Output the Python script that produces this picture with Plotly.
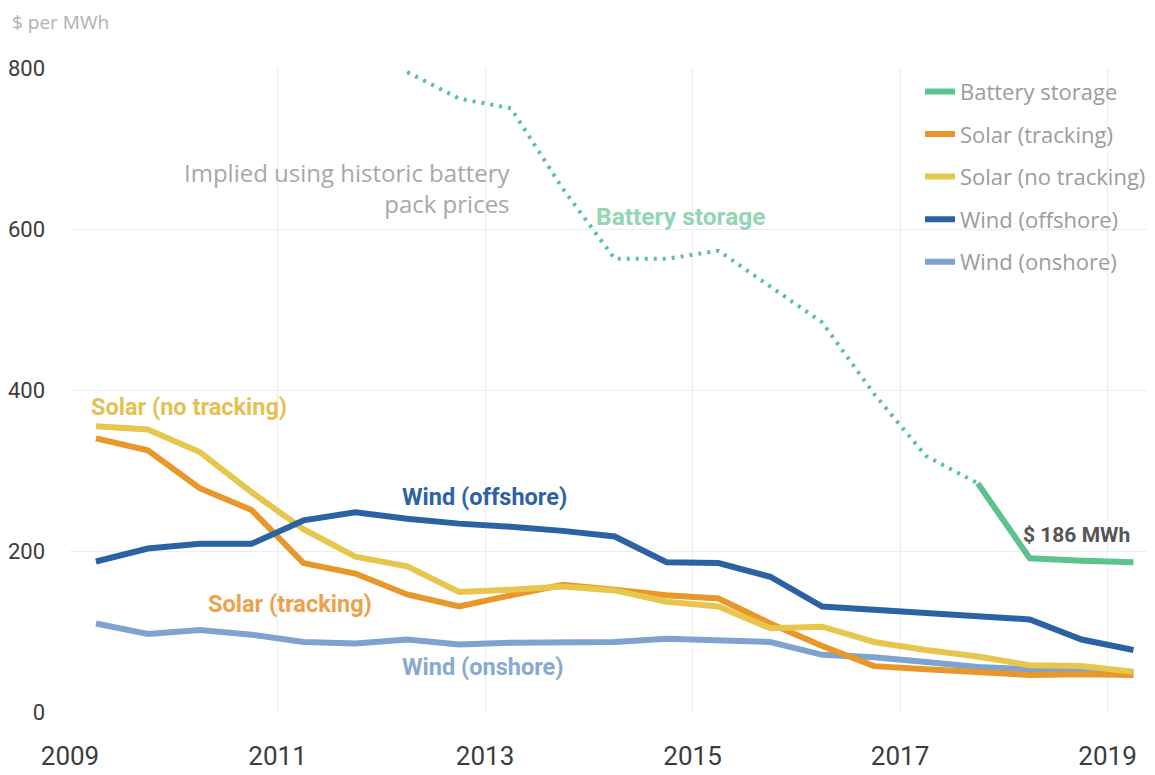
import plotly.graph_objects as go

# ---- data ----
years = [2009.25, 2009.75, 2010.25, 2010.75, 2011.25, 2011.75, 2012.25, 2012.75,
         2013.25, 2013.75, 2014.25, 2014.75, 2015.25, 2015.75, 2016.25, 2016.75,
         2017.25, 2017.75, 2018.25, 2018.75, 2019.25]
solar_tracking = [340, 325, 278, 251, 185, 172, 146, 131, 145, 158, 152, 145, 141,
                  110, 82, 57, 53, 49, 46, 47, 46]
solar_no_tracking = [355, 351, 323, 273, 227, 193, 181, 149, 152, 156, 151, 137, 131,
                     104, 106, 87, 77, 69, 58, 57, 50]
wind_offshore = [187, 203, 209, 209, 238, 248, 240, 234, 230, 225, 218, 186, 185,
                 168, 131, 127, 123, 119, 115, 90, 77]
wind_onshore = [110, 97, 102, 96, 87, 85, 90, 84, 86, 86, 87, 91, 89, 87, 71, 68,
                62, 56, 53, 53, 49]

battery_years = [2012.25, 2012.75, 2013.25, 2013.75, 2014.25, 2014.75, 2015.25,
                 2015.75, 2016.25, 2016.75, 2017.25, 2017.75, 2018.25, 2018.75,
                 2019.25]
battery_storage = [795, 762, 750, 650, 563, 563, 573, 528, 484, 395, 318, 284,
                   191, 188, 186]
implied_until = 2017.75  # before this, implied from historic battery pack prices

y_ticks = [0, 200, 400, 600, 800]
x_ticks = [2009, 2011, 2013, 2015, 2017, 2019]

# ---- styles ----
C_BATT = "#5cc38e"
C_STRK = "#e8972a"
C_SNOT = "#e6c64c"
C_WOFF = "#2b62a3"
C_WON = "#7fa3cf"
LW = 6

NARROW = "Roboto, Liberation Sans Narrow, DejaVu Sans, sans-serif"
BODY = "Open Sans, Lato, sans-serif"

imp_x = [x for x in battery_years if x <= implied_until]
imp_y = [v for x, v in zip(battery_years, battery_storage) if x <= implied_until]
act_x = [x for x in battery_years if x >= implied_until]
act_y = [v for x, v in zip(battery_years, battery_storage) if x >= implied_until]

fig = go.Figure()

fig.add_trace(go.Scatter(x=years, y=wind_onshore, mode="lines", name="Wind (onshore)",
                         line=dict(color=C_WON, width=LW), legendrank=5,
                         legendgroup="g5"))
fig.add_trace(go.Scatter(x=years, y=solar_tracking, mode="lines", name="Solar (tracking)",
                         line=dict(color=C_STRK, width=LW), legendrank=2,
                         legendgroup="g2"))
fig.add_trace(go.Scatter(x=years, y=solar_no_tracking, mode="lines", name="Solar (no tracking)",
                         line=dict(color=C_SNOT, width=LW), legendrank=3,
                         legendgroup="g3"))
fig.add_trace(go.Scatter(x=years, y=wind_offshore, mode="lines", name="Wind (offshore)",
                         line=dict(color=C_WOFF, width=LW), legendrank=4,
                         legendgroup="g4"))
fig.add_trace(go.Scatter(x=imp_x, y=imp_y, mode="lines", name="Battery storage (implied)",
                         line=dict(color=C_BATT, width=4, dash="3px,6px"),
                         showlegend=False, legendgroup="g1"))
fig.add_trace(go.Scatter(x=act_x, y=act_y, mode="lines", name="Battery storage",
                         line=dict(color=C_BATT, width=LW), legendrank=1,
                         legendgroup="g1"))

annos = [
    dict(text="Solar (no tracking)", x=2009.18, y=379, color="#e3c253", size=23.5),
    dict(text="Wind (offshore)", x=2012.18, y=267, color="#2d63a6", size=23.5),
    dict(text="Solar (tracking)", x=2010.31, y=134, color="#eba24d", size=23.5),
    dict(text="Wind (onshore)", x=2012.18, y=56, color="#88a9d1", size=23.5),
    dict(text="Battery storage", x=2014.05, y=615, color="#92d6b4", size=24.5),
    dict(text="$ 186 MWh", x=2018.17, y=220, color="#555555", size=21),
]
for a in annos:
    fig.add_annotation(x=a["x"], y=a["y"], text="<b>" + a["text"] + "</b>",
                       showarrow=False, xanchor="left", yanchor="middle",
                       font=dict(family=NARROW, size=a["size"], color=a["color"]))

fig.add_annotation(x=2013.27, y=651, text="Implied using historic battery<br>pack prices",
                   showarrow=False, xanchor="right", yanchor="middle", align="right",
                   font=dict(family=BODY, size=24, color="#a8a8a8"))

fig.add_annotation(xref="paper", yref="paper", x=-0.056, y=1.071, text="$ per MWh",
                   showarrow=False, xanchor="left", yanchor="middle",
                   font=dict(family=BODY, size=19, color="#b0b0b0"))

# page has an 8px body margin, so the figure is made 8px smaller each way
fig.update_layout(
    width=1147, height=767,
    margin=dict(l=62, r=7, t=60, b=63, autoexpand=False),
    paper_bgcolor="white", plot_bgcolor="white",
    showlegend=True,
    legend=dict(x=0.7885, y=0.996, xanchor="left", yanchor="top",
                font=dict(family=BODY, size=22, color="#9c9c9c"),
                bgcolor="rgba(255,255,255,0)", tracegroupgap=11,
                traceorder="grouped", itemwidth=30),
    xaxis=dict(range=[2009, 2019.39], tickvals=x_ticks,
               ticktext=[str(t) for t in x_ticks],
               showgrid=True, gridcolor="#ededed", gridwidth=1,
               zeroline=False, showline=False, ticks="", automargin=False,
               tickfont=dict(family=NARROW, size=26, color="#3c3c3c"),
               ticklabelstandoff=26),
    yaxis=dict(range=[0, 800], tickvals=y_ticks,
               showgrid=True, gridcolor="#ededed", gridwidth=1,
               zeroline=False, showline=False, ticks="", automargin=False,
               tickfont=dict(family=NARROW, size=22, color="#3c3c3c"),
               ticklabelstandoff=24),
)

fig.write_html("out.html")
